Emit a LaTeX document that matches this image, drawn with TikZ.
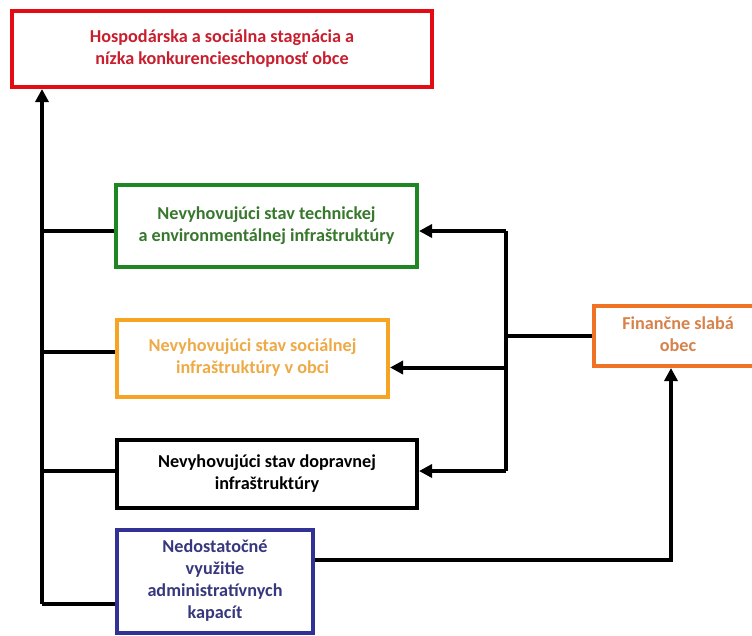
\documentclass[tikz,border=0pt]{standalone}
\usepackage{fontspec}
\setmainfont{Carlito}
\usetikzlibrary{arrows.meta}
\definecolor{cred}{RGB}{228,12,20}
\definecolor{credt}{RGB}{200,30,45}
\definecolor{cgreen}{RGB}{30,135,35}
\definecolor{cgreent}{RGB}{55,120,45}
\definecolor{corange}{RGB}{245,165,35}
\definecolor{coranget}{RGB}{238,170,70}
\definecolor{cblue}{RGB}{50,50,150}
\definecolor{cbluet}{RGB}{55,55,125}
\definecolor{cfin}{RGB}{240,115,35}
\definecolor{cfint}{RGB}{215,130,75}
\begin{document}
\begin{tikzpicture}[x=1pt,y=-1pt,
  box/.style={draw, line width=4pt, fill=white, align=center, inner sep=0pt,
    font=\fontsize{18.2}{22}\selectfont\bfseries},
  conn/.style={line width=4pt, line join=miter},
  arr/.style={conn, -{Triangle[length=13pt,width=13pt]}}]
\useasboundingbox (0,0) rectangle (752,635);
\fill[white] (0,0) rectangle (752,635);
% boxes
\node[box, draw=cred, text=credt, minimum width=420pt, minimum height=76pt] (red) at (222,49)
  {\raisebox{5pt}{\begin{tabular}{c}Hospodárska a sociálna stagnácia a\\nízka konkurencieschopnosť obce\end{tabular}}};
\node[box, draw=cgreen, text=cgreent, minimum width=301pt, minimum height=82pt] (green) at (266.5,226)
  {\raisebox{6pt}{\begin{tabular}{c}Nevyhovujúci stav technickej\\a environmentálnej infraštruktúry\end{tabular}}};
\node[box, draw=corange, text=coranget, minimum width=271pt, minimum height=77pt] (orange) at (252.5,358.5)
  {\raisebox{6pt}{\begin{tabular}{c}Nevyhovujúci stav sociálnej\\infraštruktúry v obci\end{tabular}}};
\node[box, draw=black, text=black, minimum width=300pt, minimum height=68pt] (black) at (267,474)
  {\raisebox{1pt}{\begin{tabular}{c}Nevyhovujúci stav dopravnej\\infraštruktúry\end{tabular}}};
\node[box, draw=cblue, text=cbluet, minimum width=196pt, minimum height=103pt] (blue) at (215,581.5)
  {\begin{tabular}{c}Nedostatočné\\využitie\\administratívnych\\kapacít\end{tabular}};
\node[box, draw=cfin, text=cfint, minimum width=168pt, minimum height=60pt] (fin) at (678,336)
  {\begin{tabular}{c}Finančne slabá\\obec\end{tabular}};
% trunk on the left
\coordinate (tb) at (42,604);
\draw[conn] (blue.west |- tb) -- (tb);
\draw[arr] (tb) -- (tb |- red.south);
\draw[conn] ([yshift=-5pt]green.west) -- ([yshift=-5pt]green.west -| tb);
\draw[conn] ([yshift=7pt]orange.west) -- ([yshift=7pt]orange.west -| tb);
\draw[conn] ([yshift=3pt]black.west) -- ([yshift=3pt]black.west -| tb);
% right distribution
\coordinate (vt) at (506,231);
\coordinate (vb) at (506,471);
\draw[conn] (vt) -- (vb);
\draw[conn] (fin.west) -- (fin.west -| vt);
\draw[arr] (vt) -- (vt -| green.east);
\draw[arr] ([yshift=-9pt]orange.east -| vt) -- ([yshift=-9pt]orange.east);
\draw[arr] (vb) -- (vb -| black.east);
% blue to fin
\coordinate (bc) at (671,560);
\draw[arr] (blue.east |- bc) -- (bc) -- (bc |- fin.south);
\end{tikzpicture}
\end{document}
